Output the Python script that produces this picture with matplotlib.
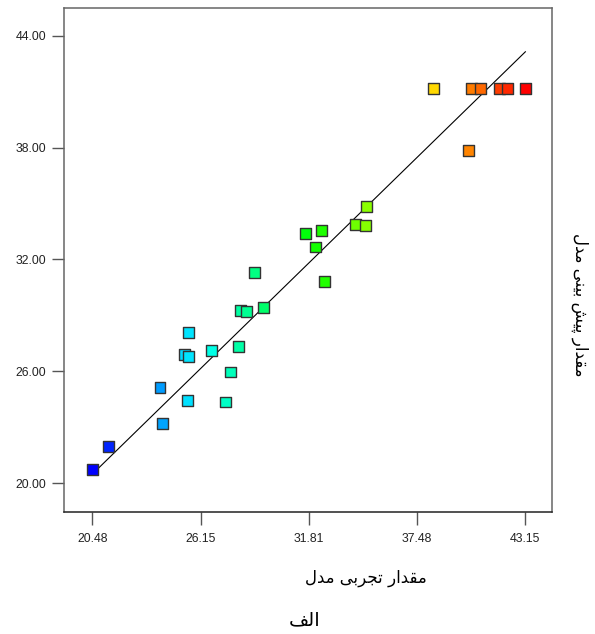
import numpy as np
import matplotlib
matplotlib.use('Agg')
import matplotlib.pyplot as plt
from matplotlib.colors import LinearSegmentedColormap, Normalize

actual = [20.48, 21.34, 24.02, 24.15, 25.30, 25.53, 25.53, 25.47, 26.70, 27.43,
          27.73, 28.12, 28.25, 28.56, 28.95, 29.45, 31.63, 32.47, 32.18, 32.61,
          34.27, 34.80, 34.85, 38.33, 40.35, 40.82, 41.79, 42.23, 43.15, 40.19]
predicted = [20.75, 21.97, 25.11, 23.22, 26.89, 26.80, 28.10, 24.45, 27.12, 24.35,
             25.96, 27.35, 29.28, 29.22, 31.29, 29.41, 33.38, 33.54, 32.67, 30.83,
             33.86, 33.85, 34.83, 41.18, 41.18, 41.18, 41.18, 41.18, 41.18, 37.86]

xticks = [20.48, 26.15, 31.81, 37.48, 43.15]
yticks = [20.0, 26.0, 32.0, 38.0, 44.0]

# arabic text, presentation forms in logical order (reversed for display)
xlabel_txt = '\uFEE3\uFED8\uFEAA\uFE8D\uFEAD \uFE97\uFEA0\uFEAE\uFE91\uFEF0 \uFEE3\uFEAA\uFEDD'
ylabel_txt = ('\uFEE3\uFED8\uFEAA\uFE8D\uFEAD \uFB58\uFEF4\uFEB6 '
              '\uFE91\uFEF4\uFEE8\uFEF0 \uFEE3\uFEAA\uFEDD')
title_txt = '\uFE8D\uFEDF\uFED2'

cmap = LinearSegmentedColormap.from_list(
    'de', ['#0000ff', '#00ffff', '#00ff00', '#ffff00', '#ff0000'])
norm = Normalize(min(actual), max(actual))

plt.rcParams['font.family'] = ['Liberation Sans', 'DejaVu Sans']

fig = plt.figure(figsize=(5.95, 6.34), dpi=100)
W, H = 595, 634
ax = fig.add_axes([64.3 / W, 1 - 512.3 / H, (552.3 - 64.3) / W, (512.3 - 8) / H])

lo, hi = min(actual), max(actual)
ax.plot([lo, hi], [lo, hi], color='black', lw=0.8, zorder=1)
ax.scatter(actual, predicted, c=cmap(norm(actual)), marker='s', s=62,
           edgecolors='#333333', linewidths=1.0, zorder=2)

ax.set_xlim(19.01, 44.56)
ax.set_ylim(18.43, 45.5)
ax.set_xticks(xticks)
ax.set_xticklabels(['%.2f' % v for v in xticks])
ax.set_yticks(yticks)
ax.set_yticklabels(['%.2f' % v for v in yticks])
ax.tick_params(axis='x', direction='out', length=9.4, width=1, color='#555555',
               pad=5.5, labelsize=8.8, labelcolor='#222222')
ax.tick_params(axis='y', direction='out', length=8.6, width=1, color='#555555',
               pad=4.3, labelsize=8.8, labelcolor='#222222')
for sp in ax.spines.values():
    sp.set_color('#666666')
    sp.set_linewidth(1.1)
ax.spines['bottom'].set_color('#222222')

fig.text(366 / W, 1 - 578 / H, xlabel_txt[::-1], ha='center', va='center',
         fontsize=12, family=['DejaVu Sans'])
fig.text(580 / W, 1 - 305 / H, ylabel_txt[::-1], ha='center', va='center',
         rotation=270, fontsize=12, family=['DejaVu Sans'])
fig.text(305 / W, 1 - 620 / H, title_txt[::-1], ha='center', va='center',
         fontsize=14, family=['DejaVu Sans'])

fig.savefig('out.png', dpi=100)
